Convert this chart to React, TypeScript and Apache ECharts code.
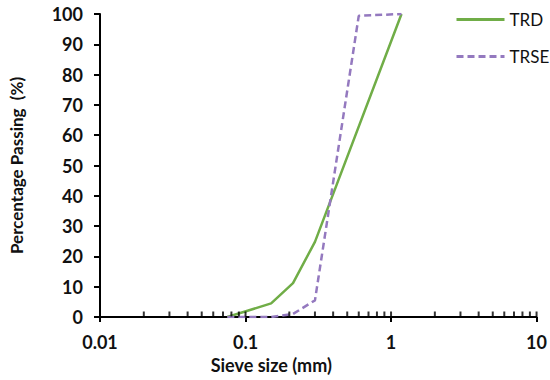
import React, { useEffect, useRef } from "react";
import * as echarts from "echarts";

const seriesNames = ["TRD", "TRSE"];
const trdSizes = [0.075, 0.15, 0.212, 0.3, 1.18];
const trdPassing = [0, 4.5, 11.2, 24.8, 100];
const trseSizes = [0.075, 0.15, 0.212, 0.3, 0.6, 1.18];
const trsePassing = [0, 0, 1, 5.5, 99.4, 100];
const minorTickValues = [
  0.02, 0.03, 0.04, 0.05, 0.06, 0.07, 0.08, 0.09,
  0.2, 0.3, 0.4, 0.5, 0.6, 0.7, 0.8, 0.9,
  2, 3, 4, 5, 6, 7, 8, 9,
];
const majorTickValues = [0.1, 1, 10];

const FONT = "Lato, 'Open Sans', sans-serif";

export default function App() {
  const ref = useRef<HTMLDivElement>(null);
  useEffect(() => {
    if (!ref.current) return;
    const chart = echarts.init(ref.current, undefined, { renderer: "svg" });
    const pairs = (xs: number[], ys: number[]) => xs.map((x, i) => [x, ys[i]]);
    chart.setOption({
      animation: false,
      backgroundColor: "#ffffff",
      grid: { left: 97, right: 12, top: 14, bottom: 63 },
      legend: {
        data: seriesNames,
        orient: "vertical",
        left: 455,
        top: 11,
        padding: 0,
        itemWidth: 48,
        itemHeight: 18,
        itemGap: 20,
        itemStyle: { opacity: 0 },
        lineStyle: { width: 3 },
        textStyle: { fontFamily: FONT, fontSize: 17, color: "#111" },
      },
      xAxis: {
        type: "log",
        logBase: 10,
        min: 0.01,
        max: 10,
        name: "Sieve size (mm)",
        nameLocation: "middle",
        nameGap: 39,
        nameTextStyle: {
          fontFamily: FONT,
          fontSize: 18,
          fontWeight: "bold",
          color: "#111",
          padding: [0, 94, 0, 0],
        },
        axisLine: { lineStyle: { color: "#000", width: 2 } },
        axisTick: { show: true, inside: false, length: 5, lineStyle: { color: "#000", width: 2 } },
        splitLine: { show: false },
        minorTick: { show: false },
        axisLabel: {
          margin: 16,
          fontFamily: FONT,
          fontSize: 18,
          fontWeight: "bold",
          color: "#111",
          formatter: (v: number) => String(+v.toPrecision(3)),
        },
      },
      yAxis: {
        type: "value",
        min: 0,
        max: 100,
        interval: 10,
        name: "Percentage Passing  (%)",
        nameLocation: "middle",
        nameGap: 75,
        nameTextStyle: { fontFamily: FONT, fontSize: 17, fontWeight: "bold", color: "#111" },
        axisLine: { show: true, lineStyle: { color: "#000", width: 2 } },
        axisTick: { show: true, inside: false, length: 6, lineStyle: { color: "#000", width: 2 } },
        splitLine: { show: false },
        axisLabel: {
          margin: 17,
          fontFamily: FONT,
          fontSize: 18,
          fontWeight: "bold",
          color: "#111",
        },
      },
      series: [
        {
          name: "TRD",
          type: "line",
          symbol: "none",
          data: pairs(trdSizes, trdPassing),
          lineStyle: { color: "#70AD47", width: 2.5 },
          itemStyle: { color: "#70AD47" },
          z: 3,
        },
        {
          name: "TRSE",
          type: "line",
          symbol: "none",
          data: pairs(trseSizes, trsePassing),
          lineStyle: { color: "#9479BF", width: 2.5, type: [7, 4] },
          itemStyle: { color: "#9479BF" },
          z: 4,
        },
        {
          name: "minorTicks",
          type: "scatter",
          silent: true,
          symbol: "rect",
          symbolSize: [2, 5],
          symbolOffset: [0, -3],
          itemStyle: { color: "#000" },
          data: minorTickValues.map((v) => [v, 0]),
          z: 5,
        },
        {
          name: "majorTicks",
          type: "scatter",
          silent: true,
          symbol: "rect",
          symbolSize: [2, 5],
          symbolOffset: [0, -3],
          itemStyle: { color: "#000" },
          data: majorTickValues.map((v) => [v, 0]),
          z: 5,
        },
      ],
    });
    return () => chart.dispose();
  }, []);
  return <div ref={ref} style={{ width: 550, height: 380, position: "absolute", left: 0, top: 0 }} />;
}
